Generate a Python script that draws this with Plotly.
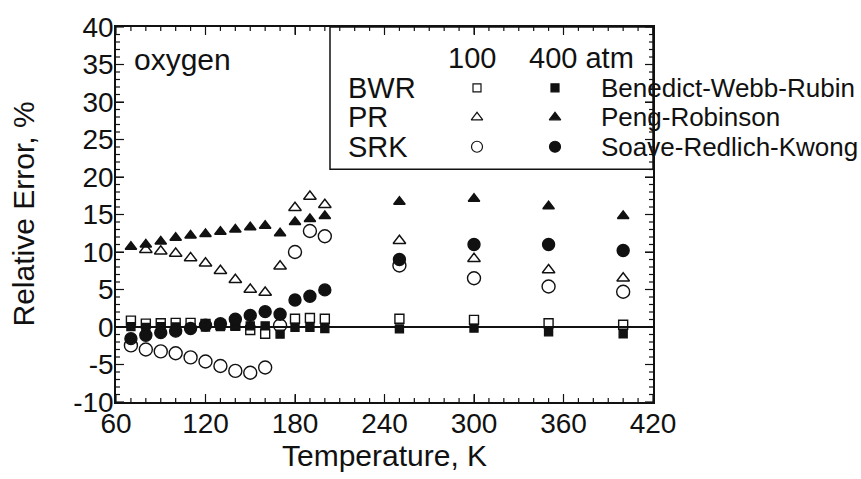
import plotly.graph_objects as go

# Temperatures (K) at which relative errors are reported
temps = [70, 80, 90, 100, 110, 120, 130, 140, 150, 160, 170, 180, 190, 200,
         250, 300, 350, 400]

# Relative error (%) of each equation of state for oxygen, at 100 and 400 atm
bwr_100 = [0.85, 0.45, 0.5, 0.55, 0.55, 0.4, 0.3, 0.2, -0.4, -0.9, None, 1.1, 1.2, 1.1,
           1.1, 0.95, 0.5, 0.3]
bwr_400 = [0.05, -0.05, 0.05, 0.0, -0.1, 0.0, 0.05, 0.1, 0.15, 0.15, -0.95, -0.05, -0.05, -0.2,
           -0.25, -0.15, -0.65, -0.9]
pr_100 = [None, 10.3, 10.1, 9.8, 9.2, 8.5, 7.5, 6.3, 5.0, 4.6, 8.1, 15.9, 17.4, 16.3,
          11.5, 9.1, 7.6, 6.5]
pr_400 = [10.7, 11.0, 11.4, 11.9, 12.2, 12.4, 12.7, 13.0, 13.3, 13.5, 12.5, 14.0, 14.4, 14.8,
          16.7, 17.1, 16.1, 14.8]
srk_100 = [-2.45, -3.0, -3.25, -3.5, -4.05, -4.6, -5.2, -5.85, -6.1, -5.4, 0.2, 10.0, 12.8, 12.1,
           8.2, 6.5, 5.4, 4.7]
srk_400 = [-1.55, -1.1, -0.75, -0.55, -0.2, 0.25, 0.45, 1.05, 1.55, 2.05, 1.7, 3.6, 4.1, 4.95,
           9.0, 11.0, 11.0, 10.2]

x_ticks = [60, 120, 180, 240, 300, 360, 420]
y_ticks = [-10, -5, 0, 5, 10, 15, 20, 25, 30, 35, 40]
x_tick_text = ["60", "120", "180", "240", "300", "360", "420"]
y_tick_text = ["-10", "-5", "0", "5", "10", "15", "20", "25", "30", "35", "40"]

abbrevs = ["BWR", "PR", "SRK"]
full_names = ["Benedict-Webb-Rubin", "Peng-Robinson", "Soave-Redlich-Kwong"]
pressures = ["100", "400 atm"]

INK = "#111111"
FONT = "Liberation Sans, Arial, Helvetica, sans-serif"

W, H = 861, 479
L, R, T, B = 116, 208, 20, 77
PLOT_W, PLOT_H = W - L - R, H - T - B
X_RANGE = [x_ticks[0], x_ticks[-1]]
Y_RANGE = [y_ticks[0], y_ticks[-1]]

# minor tick positions: every 10 K and every 1 %
x_minor = list(range(X_RANGE[0], X_RANGE[1] + 1, 10))
y_minor = list(range(Y_RANGE[0], Y_RANGE[1] + 1, 1))
MAJOR_LEN, MINOR_LEN = 8, 4


def px(x, y):
    """Convert a figure pixel position to paper coordinates."""
    return (x - L) / PLOT_W, (H - B - y) / PLOT_H


def px_data(x, y):
    """Convert a figure pixel position to data coordinates."""
    fx, fy = px(x, y)
    return (X_RANGE[0] + fx * (X_RANGE[1] - X_RANGE[0]),
            Y_RANGE[0] + fy * (Y_RANGE[1] - Y_RANGE[0]))


fig = go.Figure()

# (values, symbol, plot size, key size, key column, key row)
series = [
    (bwr_100, "square-open", 9, 8, 0, 0),
    (pr_100, "triangle-up-open", 11, 10, 0, 1),
    (srk_100, "circle-open", 13, 11, 0, 2),
    (bwr_400, "square", 8, 8, 1, 0),
    (pr_400, "triangle-up", 10, 10, 1, 1),
    (srk_400, "circle", 12, 11, 1, 2),
]
for vals, sym, size, _, col, row in series:
    fig.add_trace(go.Scatter(
        x=temps, y=vals, mode="markers",
        name=f"{abbrevs[row]} {pressures[col]}", showlegend=False,
        marker=dict(symbol=sym, size=size, color=INK, line=dict(color=INK, width=1.4)),
    ))

# key symbols, placed in the box at the top right
key_cols = [477, 555]
row_y = [82, 112, 142]
for _, sym, _, ksize, col, row in series:
    kx, ky = px_data(key_cols[col], row_y[row])
    fig.add_trace(go.Scatter(
        x=[kx], y=[ky], mode="markers", showlegend=False, hoverinfo="skip",
        marker=dict(symbol=sym, size=ksize, color=INK, line=dict(color=INK, width=1.2)),
    ))

fig.update_xaxes(
    range=X_RANGE, tickvals=x_ticks, ticktext=x_tick_text,
    ticks="inside", ticklen=MAJOR_LEN, tickwidth=1.2, tickcolor=INK,
    showline=True, linecolor=INK, linewidth=1.5, mirror="ticks",
    showgrid=False, zeroline=False,
    tickfont=dict(family=FONT, size=28, color=INK),
    ticklabelstandoff=-4,
)
fig.update_yaxes(
    range=Y_RANGE, tickvals=y_ticks, ticktext=y_tick_text,
    ticks="inside", ticklen=MAJOR_LEN, tickwidth=1.2, tickcolor=INK,
    showline=True, linecolor=INK, linewidth=1.5, mirror="ticks",
    showgrid=False, zeroline=True, zerolinecolor=INK, zerolinewidth=1.5,
    tickfont=dict(family=FONT, size=28, color=INK),
    ticklabelstandoff=-5,
)

# tick marks on all four sides, pointing into the frame
tick_line = dict(color=INK, width=1.2)
for xv in x_minor:
    ln = (MAJOR_LEN if xv in x_ticks else MINOR_LEN) / PLOT_H
    fig.add_shape(type="line", xref="x", yref="paper", x0=xv, x1=xv, y0=0, y1=ln,
                  line=tick_line)
    fig.add_shape(type="line", xref="x", yref="paper", x0=xv, x1=xv, y0=1, y1=1 - ln,
                  line=tick_line)
for yv in y_minor:
    ln = (MAJOR_LEN if yv in y_ticks else MINOR_LEN) / PLOT_W
    fig.add_shape(type="line", xref="paper", yref="y", x0=0, x1=ln, y0=yv, y1=yv,
                  line=tick_line)
    fig.add_shape(type="line", xref="paper", yref="y", x0=1, x1=1 - ln, y0=yv, y1=yv,
                  line=tick_line)

annotations = []


def label(text, x, y, size=28, xanchor="left", angle=0):
    ax, ay = px(x, y)
    annotations.append(dict(
        text=text, x=ax, y=ay, xref="paper", yref="paper", showarrow=False,
        xanchor=xanchor, yanchor="middle", textangle=angle,
        font=dict(family=FONT, size=size, color=INK),
    ))


# axis titles
label("Temperature, K", 384, 457, size=30, xanchor="center")
label("Relative Error, %", 23, 211, size=30, xanchor="center", angle=-90)

# panel label
label("oxygen", 132, 53, size=30)

# key text
label(pressures[0], 472, 52, size=29, xanchor="center")
label(pressures[1], 527, 52, size=29)
for i in range(3):
    label(abbrevs[i], 346, row_y[i], size=29)
    label(full_names[i], 599, row_y[i], size=26)

bx0, by0 = px(330, 165)
fig.add_shape(type="rect", xref="paper", yref="paper", x0=bx0, x1=1, y0=by0, y1=1,
              line=dict(color=INK, width=1.5))

fig.update_layout(
    width=W, height=H,
    margin=dict(l=L, r=R, t=T, b=B),
    paper_bgcolor="white", plot_bgcolor="white",
    annotations=annotations,
    showlegend=False,
)

fig.write_html("out.html")
